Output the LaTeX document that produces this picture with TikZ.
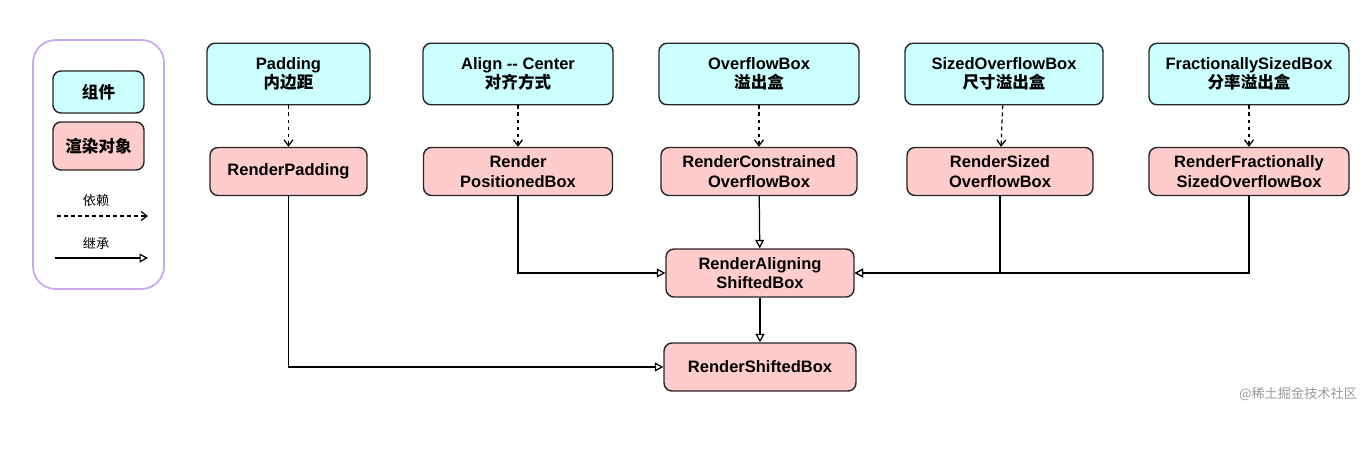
\documentclass[tikz,border=0pt]{standalone}
\usepackage{fontspec}
\setmainfont{Liberation Sans}
\newfontfamily\cjk{Noto Sans CJK SC}
\usetikzlibrary{arrows.meta}
\definecolor{compfill}{HTML}{CCFFFF}
\definecolor{renderfill}{HTML}{FFCCCC}
\definecolor{legendline}{HTML}{C8A8F0}

\begin{document}
\begin{tikzpicture}[x=0.02cm, y=-0.02cm, node distance=1.95cm,
  box/.style={draw=black!85, line width=0.8pt, rounded corners=0.16cm, align=center, font=\fontsize{9.4}{11}\selectfont\bfseries},
  comp/.style={box, fill=compfill, minimum height=1.23cm},
  render/.style={box, fill=renderfill, minimum height=0.96cm},
  dep/.style={dash pattern=on 2.2pt off 1.8pt, line width=0.7pt, -{Straight Barb[length=0.12cm,width=0.18cm]}},
  inherit/.style={line width=0.7pt, -{Triangle[open,fill=white,length=0.17cm,width=0.18cm]}},
  hv/.style={to path={|- (\tikztotarget) \tikztonodes}},
  legendbox/.style={draw=legendline, line width=1pt, rounded corners=0.45cm, minimum width=2.62cm, minimum height=4.98cm},
  note/.style={font=\cjk\fontsize{7.5}{9}\selectfont}]
\useasboundingbox (0,0) rectangle (1368,460);

\node[legendbox] (legend) at (98.5,164.5) {};
\node[comp, minimum width=1.82cm, minimum height=0.84cm] (lcomp) at (98.5,92) {\cjk 组件};
\node[render, minimum width=1.82cm] (lrender) at (98.5,146) {\cjk 渲染对象};
\node[note] (ldep) at (96,201) {依赖};
\node[note] (linh) at (96,243) {继承};
\coordinate (lda) at (57,216);
\coordinate (ldb) at (148,216);
\coordinate (lia) at (55,258);
\coordinate (lib) at (148,258);

\node[comp, minimum width=3.26cm] (pad) at (288.5,74) {Padding\\{\cjk 内边距}};
\node[comp, minimum width=3.8cm] (align) at (518,74) {Align -{}- Center\\{\cjk 对齐方式}};
\node[comp, minimum width=4cm] (over) at (759,74) {OverflowBox\\{\cjk 溢出盒}};
\node[comp, minimum width=3.96cm] (sized) at (1004,74) {SizedOverflowBox\\{\cjk 尺寸溢出盒}};
\node[comp, minimum width=4cm] (frac) at (1249,74) {FractionallySizedBox\\{\cjk 分率溢出盒}};

\node[render, minimum width=3.14cm] (rpad) [below of=pad] {RenderPadding};
\node[render, minimum width=3.78cm] (rpos) [below of=align] {Render\\PositionedBox};
\node[render, minimum width=3.92cm] (rcons) [below of=over] {RenderConstrained\\OverflowBox};
\node[render, minimum width=3.72cm] (rsized) at (1000,171.5) {RenderSized\\OverflowBox};
\node[render, minimum width=4cm] (rfrac) [below of=frac] {RenderFractionally\\SizedOverflowBox};
\node[render, minimum width=3.76cm] (ralign) at (760,273) {RenderAligning\\ShiftedBox};
\node[render, minimum width=3.84cm] (rshift) at (760,367) {RenderShiftedBox};

\node[text=black!40, font=\cjk\fontsize{7.5}{9}\selectfont] (mark) at (1298,394) {@稀土掘金技术社区};

\path (lda) edge[dep] (ldb);
\path (lia) edge[inherit] (lib);
\path (pad) edge[dep] (rpad);
\path (align) edge[dep] (rpos);
\path (over) edge[dep] (rcons);
\path (sized) edge[dep] (rsized);
\path (frac) edge[dep] (rfrac);
\path (rpad) edge[inherit,hv] (rshift);
\path (rpos) edge[inherit,hv] (ralign);
\path (rcons) edge[inherit] (ralign);
\path (rsized) edge[inherit,hv] (ralign);
\path (rfrac) edge[inherit,hv] (ralign);
\path (ralign) edge[inherit] (rshift);
\end{tikzpicture}
\end{document}
